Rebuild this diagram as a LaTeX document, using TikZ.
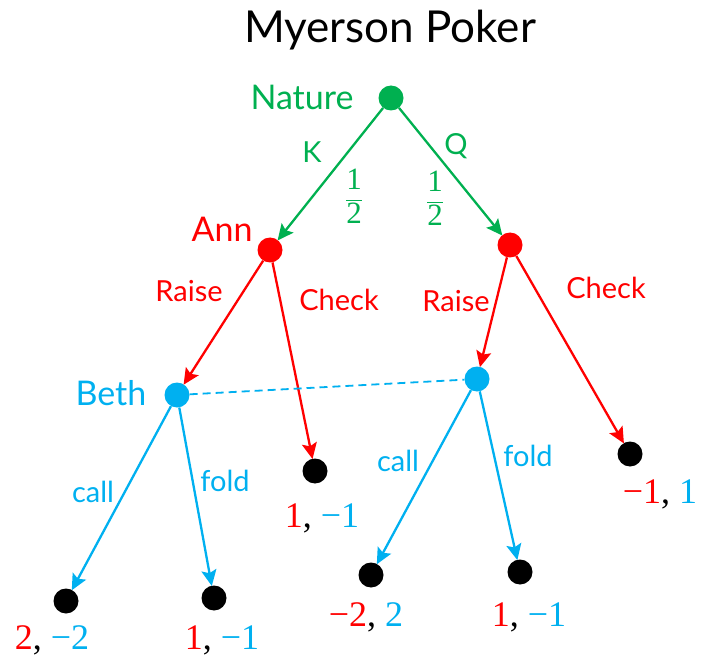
\documentclass[tikz,border=0pt]{standalone}
\usepackage{fontspec}
\setmainfont{Lato}
\newfontfamily\numfont{Liberation Serif}
\usetikzlibrary{arrows.meta}
\definecolor{natgreen}{HTML}{00B050}
\definecolor{annred}{HTML}{FF0000}
\definecolor{bethblue}{HTML}{00B0F0}
\tikzset{
  dot/.style={circle,fill=#1,inner sep=0pt,minimum size=25pt},
  edge/.style={line width=2.3pt,draw=#1,-{Stealth[length=16pt,width=15pt,inset=3pt]},shorten >=-0.5pt},
  lbl/.style={font=\fontsize{29}{34}\selectfont,text=#1,inner sep=0pt},
  who/.style={font=\fontsize{34}{40}\selectfont,text=#1,inner sep=0pt},
  pay/.style={font=\fontsize{36}{40}\selectfont\numfont,inner sep=0pt},
  half/.style={font=\fontsize{31}{36}\selectfont,text=natgreen,inner sep=0pt},
}
\newcommand{\payoff}[2]{\textcolor{annred}{#1}, \textcolor{bethblue}{#2}}
\newcommand{\halfprob}{$\displaystyle\frac{\hbox{\numfont 1}}{\hbox{\numfont 2}}$}
\begin{document}
\begin{tikzpicture}[x=1pt,y=-1pt]
\useasboundingbox (0,0) rectangle (705,658);
% title
\node[font=\fontsize{44}{50}\selectfont,inner sep=0pt] (title) at (390,30) {Myerson Poker};
% decision nodes
\node[dot=natgreen] (nat) at (391,98) {};
\node[dot=annred] (annK) at (270,250) {};
\node[dot=annred] (annQ) at (510,245) {};
\node[dot=bethblue] (bethK) at (177,395) {};
\node[dot=bethblue] (bethQ) at (477,379) {};
% terminal nodes
\node[dot=black] (t1) at (66,601) {};
\node[dot=black] (t2) at (214,598) {};
\node[dot=black] (t3) at (315,471) {};
\node[dot=black] (t4) at (371,575) {};
\node[dot=black] (t5) at (520,572) {};
\node[dot=black] (t6) at (630,454) {};
% player names
\node[who=natgreen] (natname) at (302,97) {Nature};
\node[who=annred] (annname) at (222,229) {Ann};
\node[who=bethblue] (bethname) at (111,393) {Beth};
% chance moves
\draw[edge=natgreen] (nat) -- (annK);
\draw[edge=natgreen] (nat) -- (annQ);
\node[lbl=natgreen] (kl) at (312,152) {K};
\node[lbl=natgreen] (ql) at (456,146) {Q};
\node[half] (pk) at (354,196) {\halfprob};
\node[half] (pq) at (435,198) {\halfprob};
% Ann's moves
\draw[edge=annred] (annK) -- (bethK);
\draw[edge=annred] (annK) -- (t3);
\draw[edge=annred] (annQ) -- (bethQ);
\draw[edge=annred] (annQ) -- (t6);
\node[lbl=annred] (r1) at (189,291) {Raise};
\node[lbl=annred] (c1) at (339,300) {Check};
\node[lbl=annred] (r2) at (456,301) {Raise};
\node[lbl=annred] (c2) at (606,288) {Check};
% Beth's moves
\draw[bethblue,line width=1.8pt,dash pattern=on 8pt off 5pt] (bethK) -- (bethQ);
\draw[edge=bethblue] (bethK) -- (t1);
\draw[edge=bethblue] (bethK) -- (t2);
\draw[edge=bethblue] (bethQ) -- (t4);
\draw[edge=bethblue] (bethQ) -- (t5);
\node[lbl=bethblue] (call1) at (93,492) {call};
\node[lbl=bethblue] (fold1) at (225,481) {fold};
\node[lbl=bethblue] (call2) at (398,461) {call};
\node[lbl=bethblue] (fold2) at (528,456) {fold};
% payoffs
\node[pay] (p1) at (52,640) {\payoff{2}{−2}};
\node[pay] (p2) at (222,640) {\payoff{1}{−1}};
\node[pay] (p3) at (322,518) {\payoff{1}{−1}};
\node[pay] (p4) at (366,617) {\payoff{−2}{2}};
\node[pay] (p5) at (529,617) {\payoff{1}{−1}};
\node[pay] (p6) at (660,494) {\payoff{−1}{1}};
\end{tikzpicture}
\end{document}
